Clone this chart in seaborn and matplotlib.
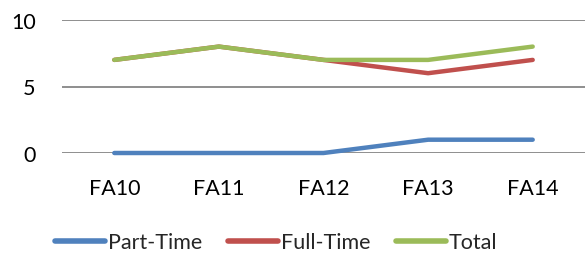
import matplotlib
matplotlib.use("Agg")
import matplotlib.pyplot as plt
import seaborn as sns
import pandas as pd

categories = ["FA10", "FA11", "FA12", "FA13", "FA14"]
part_time = [0, 0, 0, 1, 1]
full_time = [7, 8, 7, 6, 7]
total = [7, 8, 7, 7, 8]
series_names = ["Part-Time", "Full-Time", "Total"]
colors = ["#4F81BD", "#C0504D", "#9BBB59"]

rows = []
for name, vals in zip(series_names, [part_time, full_time, total]):
    for i, (c, v) in enumerate(zip(categories, vals)):
        rows.append({"Category": c, "pos": i, "Value": v, "Series": name})
df = pd.DataFrame(rows)

sns.set_style("white")
plt.rcParams["font.family"] = ["Lato", "DejaVu Sans"]

fig = plt.figure(figsize=(5.85, 2.55), dpi=100)
ax = fig.add_axes([62/585, 1-154/255, (585-62)/585, (154-21)/255])

sns.lineplot(data=df, x="pos", y="Value", hue="Series", hue_order=series_names,
             palette=colors, linewidth=3.2, ax=ax, sort=False,
             solid_capstyle="round")
for ln in ax.get_lines():
    ln.set_clip_on(False)
    ln.set_zorder(3)

ax.set_xlim(-0.5, len(categories) - 0.5)
ax.set_ylim(0, 10)
ax.set_yticks([0, 5, 10])
ax.set_xticks(range(len(categories)))
ax.set_xticklabels(categories)
ax.yaxis.grid(True, color="#868686", linewidth=1.3)
ax.set_axisbelow(True)
for s in ax.spines.values():
    s.set_visible(False)
ax.tick_params(axis="both", length=0, labelsize=15.5, colors="#000000")
ax.tick_params(axis="y", pad=19)
ax.tick_params(axis="x", pad=18)
ax.set_xlabel("")
ax.set_ylabel("")

handles, labels = ax.get_legend_handles_labels()
ax.legend(handles, labels, loc="center", bbox_to_anchor=(0.5 - 47/523, -0.67),
          ncol=3, frameon=False, fontsize=15.5, handlelength=2.3, handletextpad=0.15,
          columnspacing=1.2)
for line in ax.get_legend().get_lines():
    line.set_linewidth(4)
    line.set_solid_capstyle("round")

fig.savefig("out.png", dpi=100)
